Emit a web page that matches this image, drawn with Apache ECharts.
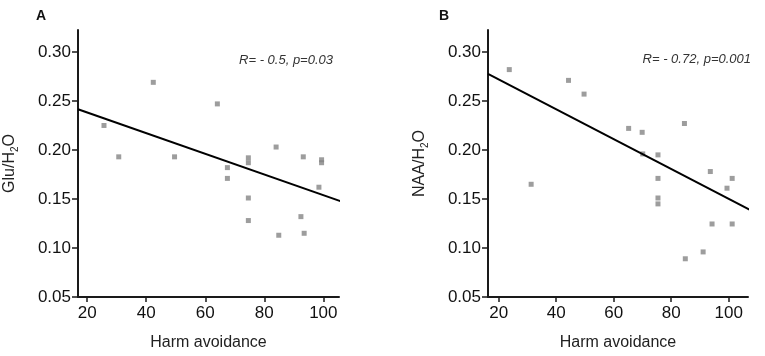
<!DOCTYPE html>
<html>
<head>
<meta charset="utf-8">
<script src="https://cdn.jsdelivr.net/npm/echarts@6/dist/echarts.min.js"></script>
<style>
  html, body { margin: 0; padding: 0; background: #fff; }
  #chart { width: 765px; height: 356px; }
</style>
</head>
<body>
<div id="chart"></div>
<script>
// panel A: Glu/H2O vs harm avoidance
var harmA = [25.7, 30.7, 42.4, 49.6, 64.1, 67.5, 67.5, 74.6, 74.6, 74.6, 74.6, 84.0, 84.9, 92.4, 93.2, 93.5, 98.5, 99.4, 99.4];
var gluA = [0.225, 0.193, 0.269, 0.193, 0.247, 0.182, 0.171, 0.192, 0.187, 0.151, 0.128, 0.203, 0.113, 0.132, 0.193, 0.115, 0.162, 0.190, 0.187];
var fitAx = [16.9, 106.9];
var fitAy = [0.2415, 0.1466];

// panel B: NAA/H2O vs harm avoidance
var harmB = [23.7, 31.3, 44.3, 49.7, 65.2, 69.9, 70.1, 75.4, 75.4, 75.4, 75.4, 84.6, 84.9, 91.1, 93.6, 94.2, 99.4, 101.2, 101.2];
var naaB = [0.282, 0.165, 0.271, 0.257, 0.222, 0.218, 0.196, 0.195, 0.171, 0.151, 0.145, 0.227, 0.089, 0.096, 0.178, 0.1245, 0.161, 0.171, 0.1245];
var fitBx = [16.3, 112];
var fitBy = [0.2776, 0.1319];

var xTicks = [20, 40, 60, 80, 100];
var yTicks = [0.05, 0.10, 0.15, 0.20, 0.25, 0.30];
var statA = "R= - 0.5, p=0.03";
var statB = "R= - 0.72, p=0.001";

function pairs(xs, ys) {
  return xs.map(function (x, i) { return [x, ys[i]]; });
}

var font = "Arial, 'Liberation Sans', sans-serif";
var axisColor = "#1a1a1a";

function xAxis(idx, min, max) {
  return {
    type: "value",
    gridIndex: idx,
    min: min,
    max: max,
    name: "Harm avoidance",
    nameLocation: "middle",
    nameGap: 38,
    nameTextStyle: { fontFamily: font, fontSize: 16, color: "#222" },
    axisLine: { lineStyle: { color: axisColor, width: 2 } },
    axisTick: { length: 5, lineStyle: { color: axisColor, width: 1.5 }, customValues: xTicks },
    axisLabel: { fontFamily: font, fontSize: 17, color: "#111", margin: 8, customValues: xTicks },
    splitLine: { show: false }
  };
}

function yAxis(idx, name) {
  return {
    type: "value",
    gridIndex: idx,
    min: 0.05,
    max: 0.3224,
    name: name,
    nameLocation: "middle",
    nameGap: 58,
    nameTextStyle: {
      color: "#222",
      rich: {
        a: { fontFamily: font, fontSize: 16, lineHeight: 20, color: "#222" },
        sub: { fontFamily: font, fontSize: 10, lineHeight: 10, verticalAlign: "bottom", color: "#222" }
      }
    },
    axisLine: { show: true, lineStyle: { color: axisColor, width: 2 } },
    axisTick: { show: true, length: 6, lineStyle: { color: axisColor, width: 1.5 }, customValues: yTicks },
    axisLabel: {
      fontFamily: font, fontSize: 17, color: "#111", margin: 7,
      customValues: yTicks,
      formatter: function (v) { return v.toFixed(2); }
    },
    splitLine: { show: false }
  };
}

function dots(idx, xs, ys) {
  return {
    type: "scatter",
    xAxisIndex: idx,
    yAxisIndex: idx,
    symbol: "rect",
    symbolSize: 5,
    itemStyle: { color: "#858585" },
    data: pairs(xs, ys)
  };
}

function fit(idx, xs, ys) {
  return {
    type: "line",
    xAxisIndex: idx,
    yAxisIndex: idx,
    clip: false,
    symbol: "none",
    lineStyle: { color: "#000", width: 2 },
    data: pairs(xs, ys)
  };
}

var myChart = echarts.init(document.getElementById("chart"));
myChart.setOption({
  animation: false,
  backgroundColor: "#fff",
  title: [
    { text: "A", left: 31, top: 4, textStyle: { fontFamily: font, fontSize: 14, fontWeight: "bold", color: "#111" } },
    { text: "B", left: 434, top: 4, textStyle: { fontFamily: font, fontSize: 14, fontWeight: "bold", color: "#111" } },
    { text: statA, right: 427, top: 49, textStyle: { fontFamily: font, fontSize: 13, fontStyle: "italic", fontWeight: "normal", color: "#333" } },
    { text: statB, right: 9, top: 48, textStyle: { fontFamily: font, fontSize: 13, fontStyle: "italic", fontWeight: "normal", color: "#333" } }
  ],
  grid: [
    { left: 78, right: 426, top: 30, bottom: 59 },
    { left: 488, right: 17, top: 30, bottom: 59 }
  ],
  xAxis: [xAxis(0, 16.9, 105.3), xAxis(1, 16.3, 106.7)],
  yAxis: [yAxis(0, "{a|Glu/H}{sub|2}{a|O}"), yAxis(1, "{a|NAA/H}{sub|2}{a|O}")],
  series: [
    dots(0, harmA, gluA),
    fit(0, fitAx, fitAy),
    dots(1, harmB, naaB),
    fit(1, fitBx, fitBy)
  ]
});
</script>
</body>
</html>
